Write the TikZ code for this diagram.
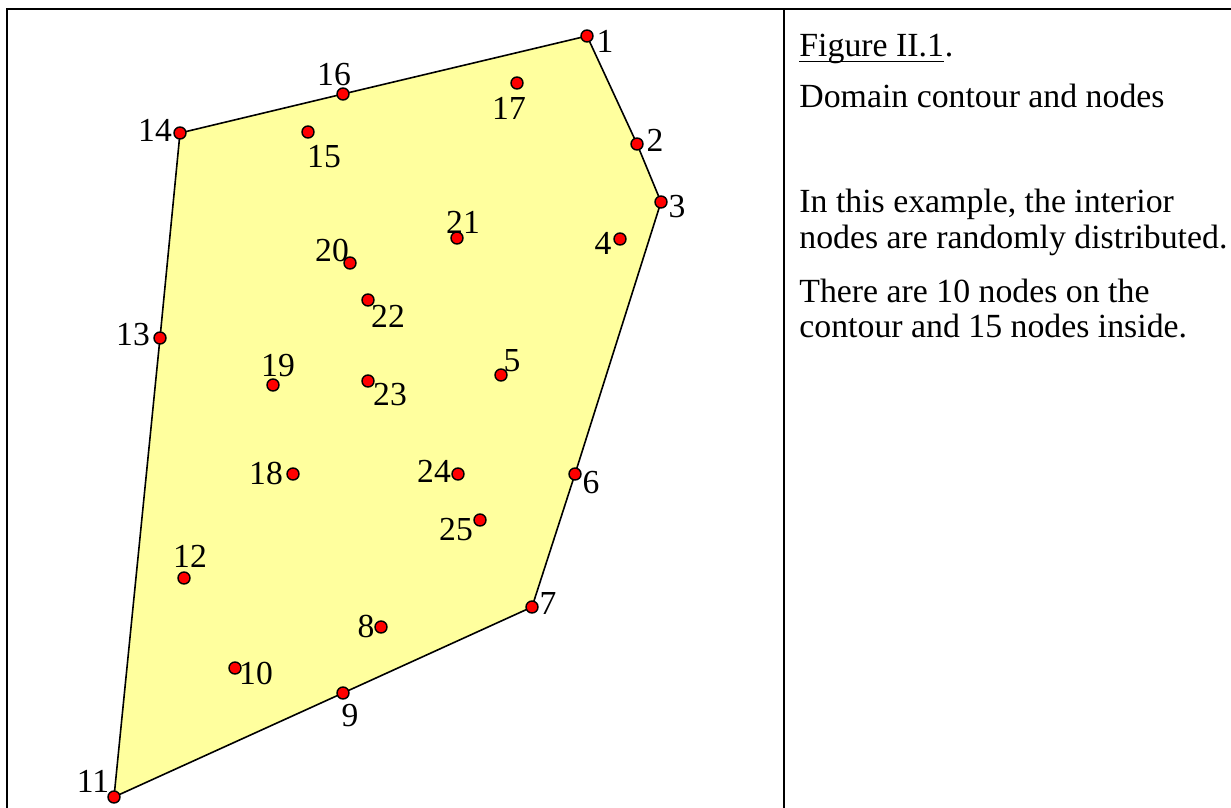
\documentclass[tikz,border=0pt]{standalone}
\usepackage{fontspec}
\setmainfont{Liberation Serif}
\definecolor{domfill}{RGB}{255,255,158}
\definecolor{dotred}{RGB}{255,0,0}
\begin{document}
\begin{tikzpicture}[x=0.5pt,y=-0.5pt,
  dot/.style={circle,draw=black,line width=0.7pt,fill=dotred,inner sep=0pt,minimum size=6pt},
  lbl/.style={inner sep=0pt,font=\fontsize{16.8}{18}\selectfont},
  txt/.style={inner sep=0pt,anchor=base west,font=\fontsize{16.9}{18}\selectfont},
  frame/.style={line width=1.3pt},
  edge/.style={line width=0.8pt,line join=miter}]
\useasboundingbox (0,0) rectangle (1231,808);
% frame
\coordinate (ftl) at (7,9);
\coordinate (ftr) at (1231,9);
\coordinate (fbl) at (7,808);
\coordinate (fdt) at (784,9);
\coordinate (fdb) at (784,808);
\draw[frame] (fbl) -- (ftl) -- (ftr);
\draw[frame] (fdt) -- (fdb);
% node positions
\coordinate (p1) at (587,36);
\coordinate (p2) at (637,144);
\coordinate (p3) at (661,202);
\coordinate (p4) at (620,239);
\coordinate (p5) at (501,375);
\coordinate (p6) at (575,474);
\coordinate (p7) at (532,607);
\coordinate (p8) at (381,627);
\coordinate (p9) at (343,693);
\coordinate (p10) at (235,668);
\coordinate (p11) at (114,797);
\coordinate (p12) at (184,578);
\coordinate (p13) at (160,338);
\coordinate (p14) at (180,133);
\coordinate (p15) at (308,132);
\coordinate (p16) at (343,94);
\coordinate (p17) at (517,83);
\coordinate (p18) at (293,474);
\coordinate (p19) at (273,385);
\coordinate (p20) at (350,263);
\coordinate (p21) at (457,238);
\coordinate (p22) at (368,300);
\coordinate (p23) at (368,381);
\coordinate (p24) at (458,474);
\coordinate (p25) at (480,520);
% domain
\draw[edge,fill=domfill] (p1) -- (p2) -- (p3) -- (p6) -- (p7) -- (p9) -- (p11) -- (p13) -- (p14) -- (p16) -- cycle;
% dots
\foreach \i in {1,...,25} { \node[dot] (n\i) at (p\i) {}; }
% labels
\node[lbl] (l1) at (605,41) {1};
\node[lbl] (l2) at (655,140) {2};
\node[lbl] (l3) at (677,207) {3};
\node[lbl] (l4) at (603,243) {4};
\node[lbl] (l5) at (512,361) {5};
\node[lbl] (l6) at (591,483) {6};
\node[lbl] (l7) at (548,603) {7};
\node[lbl] (l8) at (366,626) {8};
\node[lbl] (l9) at (350,716) {9};
\node[lbl] (l10) at (256,673) {10};
\node[lbl] (l11) at (93,781) {11};
\node[lbl] (l12) at (190,556) {12};
\node[lbl] (l13) at (133,335) {13};
\node[lbl] (l14) at (155,130) {14};
\node[lbl] (l15) at (324,157) {15};
\node[lbl] (l16) at (334,75) {16};
\node[lbl] (l17) at (509,108) {17};
\node[lbl] (l18) at (266,473) {18};
\node[lbl] (l19) at (278,366) {19};
\node[lbl] (l20) at (332,250) {20};
\node[lbl] (l21) at (463,222) {21};
\node[lbl] (l22) at (388,316) {22};
\node[lbl] (l23) at (390,395) {23};
\node[lbl] (l24) at (434,471) {24};
\node[lbl] (l25) at (456,530) {25};
% side text
\node[txt] (t1) at (799,57) {Figure II.1};
\node[txt] (t1p) at (t1.base east) {.};
\draw[line width=0.75pt] ([yshift=-2.2pt]t1.base west) -- ([yshift=-2.2pt]t1.base east);
\node[txt] (t2) at (799,108) {Domain contour and nodes};
\node[txt] (t3) at (799,213) {In this example, the interior};
\node[txt] (t4) at (799,248) {nodes are randomly distributed.};
\node[txt] (t5) at (799,302) {There are 10 nodes on the};
\node[txt] (t6) at (799,337) {contour and 15 nodes inside.};
\end{tikzpicture}
\end{document}
